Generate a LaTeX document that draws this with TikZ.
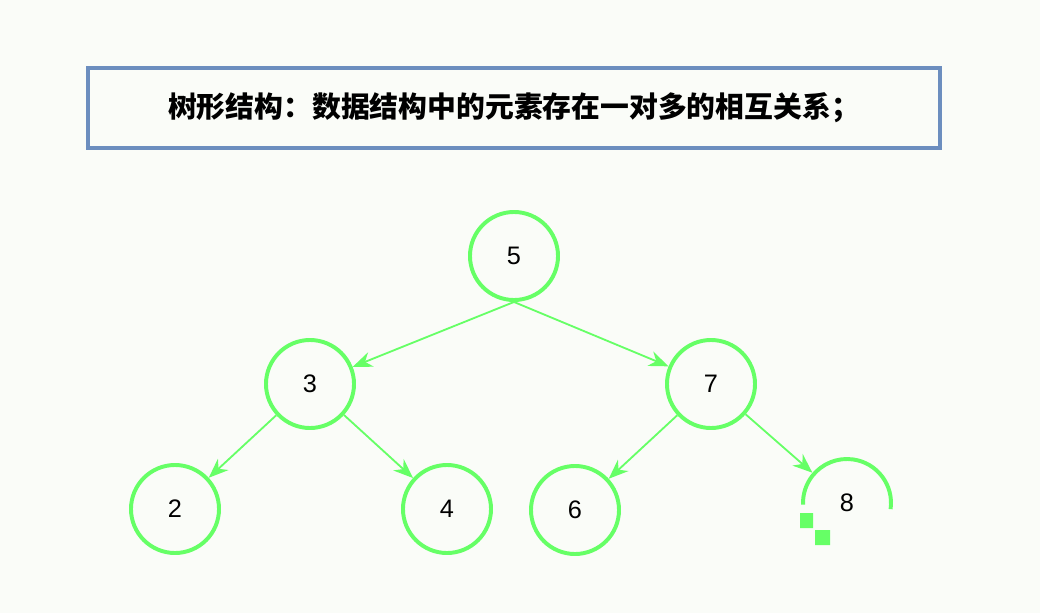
\documentclass[tikz,border=0pt]{standalone}
\usepackage{fontspec}
\setmainfont{Liberation Sans}
\newfontfamily\cjk{Noto Sans CJK SC}
\usetikzlibrary{arrows.meta}
\definecolor{treeGreen}{HTML}{66FF66}
\definecolor{boxBlue}{HTML}{6C8EBF}
\definecolor{bgPaper}{HTML}{FAFCF8}
\begin{document}
\begin{tikzpicture}
[x=0.025cm,y=-0.025cm,
  nodeDecorate/.style={shape=circle,minimum size=2.2cm,inner sep=0pt,draw=treeGreen,line width=2.8pt,font=\fontsize{18}{21}\selectfont},%
  lineDecorate/.style={-{Stealth[length=14pt,width=11pt]},draw=treeGreen,line width=1.3pt}]
\fill[bgPaper] (0,0) rectangle (1040,613);
\useasboundingbox (0,0) rectangle (1040,613);
%% title box
\node (title) at (514,108) [draw=boxBlue,line width=2.8pt,minimum width=21.3cm,minimum height=2cm,
  font=\cjk\bfseries\fontsize{20.5}{24}\selectfont] {树形结构：数据结构中的元素存在一对多的相互关系；};
%% nodes or vertices
\foreach \nodename/\x/\y in {5/514/256, 3/310/384, 7/711/384, 2/175/509, 4/447/509, 6/575/510}
{
  \node (n\nodename) at (\x,\y) [nodeDecorate] {\nodename};
}
\node (n8) at (847,503) [nodeDecorate,draw=none] {8};
\draw[treeGreen,line width=2.8pt] (n8.center) ++(8:44) arc (8:-182:44);
\fill[treeGreen] (800,513) rectangle (813,528) (815,530) rectangle (830,545);
%% edges or lines
\path (n5.south) edge[lineDecorate] (n3) (n5.south) edge[lineDecorate] (n7);
\path
\foreach \startnode/\endnode in {3/2, 3/4, 7/6, 7/8}
{
  (n\startnode) edge[lineDecorate] (n\endnode)
};
\end{tikzpicture}
\end{document}
